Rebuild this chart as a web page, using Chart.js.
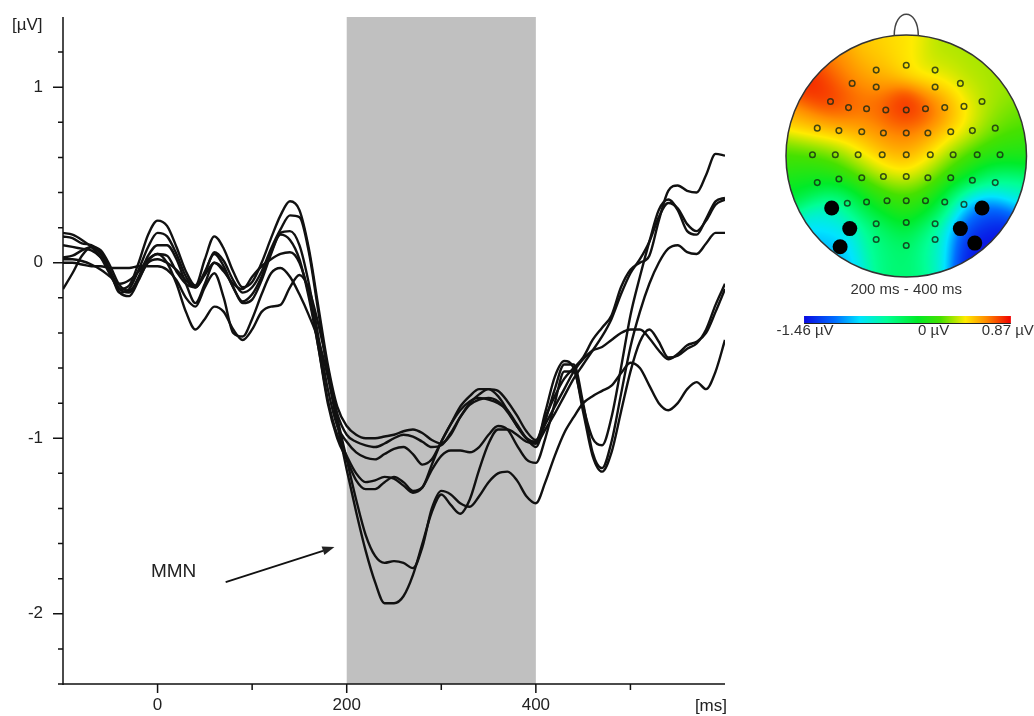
<!DOCTYPE html>
<html>
<head>
<meta charset="utf-8">
<script src="https://cdn.jsdelivr.net/npm/chart.js@4.4.1/dist/chart.umd.min.js"></script>
<style>
  html, body { margin: 0; padding: 0; background: #fff; }
  #wrap { position: relative; width: 1034px; height: 716px; overflow: hidden; }
  #erp { position: absolute; left: 0; top: 0; }
  #topo { position: absolute; left: 760px; top: 0; }
</style>
</head>
<body>
<div id="wrap">
  <canvas id="erp" width="760" height="716"></canvas>
  <canvas id="topo" width="274" height="350"></canvas>
</div>
<script>
// time axis (ms)
const times = [-100, -90, -80, -70, -60, -50, -40, -30, -20, -10,
  0, 10, 20, 30, 40, 50, 60, 70, 80, 90,
  100, 110, 120, 130, 140, 150, 160, 170, 180, 190,
  200, 210, 220, 230, 240, 250, 260, 270, 280, 290,
  300, 310, 320, 330, 340, 350, 360, 370, 380, 390,
  400, 410, 420, 430, 440, 450, 460, 470, 480, 490,
  500, 510, 520, 530, 540, 550, 560, 570, 580, 590, 600];

// difference waves (µV), one per electrode
const wave1 = [0.17, 0.16, 0.13, 0.09, 0.03, -0.07, -0.15, -0.13, 0.00, 0.16,
  0.24, 0.21, 0.09, -0.05, -0.13, 0.02, 0.15, 0.08, -0.05, -0.14,
  -0.11, 0.00, 0.14, 0.27, 0.35, 0.30, 0.08, -0.25, -0.58, -0.82,
  -0.93, -0.98, -1.00, -1.00, -0.99, -0.98, -0.96, -0.95, -0.97, -1.01,
  -1.03, -0.98, -0.88, -0.80, -0.75, -0.72, -0.73, -0.79, -0.87, -0.96,
  -1.01, -0.88, -0.76, -0.66, -0.60, -0.54, -0.44, -0.37, -0.30, -0.14,
  -0.04, 0.00, 0.04, 0.24, 0.41, 0.44, 0.41, 0.40, 0.50, 0.62, 0.61];
const wave2 = [0.15, 0.14, 0.11, 0.10, 0.06, -0.05, -0.17, -0.15, -0.04, 0.09,
  0.17, 0.15, 0.05, -0.08, -0.14, -0.06, 0.06, 0.01, -0.10, -0.17,
  -0.14, -0.05, 0.08, 0.19, 0.27, 0.26, 0.06, -0.28, -0.62, -0.86,
  -0.98, -1.02, -1.04, -1.05, -1.03, -1.00, -0.98, -0.99, -1.02, -1.05,
  -1.04, -0.97, -0.88, -0.81, -0.78, -0.77, -0.79, -0.85, -0.93, -1.00,
  -1.03, -0.85, -0.65, -0.56, -0.60, -0.82, -1.00, -1.04, -0.88, -0.60,
  -0.30, -0.08, 0.12, 0.30, 0.36, 0.30, 0.18, 0.16, 0.25, 0.35, 0.37];
const wave3 = [0.10, 0.09, 0.08, 0.07, 0.03, -0.05, -0.15, -0.17, -0.08, 0.04,
  0.10, 0.10, 0.02, -0.12, -0.23, -0.12, 0.00, -0.04, -0.14, -0.23,
  -0.21, -0.10, 0.05, 0.17, 0.18, 0.10, -0.12, -0.42, -0.72, -0.93,
  -1.02, -1.08, -1.11, -1.12, -1.09, -1.06, -1.05, -1.09, -1.15, -1.12,
  -1.02, -0.92, -0.84, -0.79, -0.77, -0.78, -0.80, -0.84, -0.92, -1.00,
  -1.05, -0.90, -0.72, -0.58, -0.58, -0.80, -1.08, -1.17, -1.02, -0.75,
  -0.48, -0.28, -0.12, 0.00, 0.08, 0.10, 0.06, 0.05, 0.11, 0.17, 0.17];
const wave4 = [0.03, 0.04, 0.07, 0.09, 0.05, -0.05, -0.17, -0.19, -0.10, 0.01,
  0.05, 0.04, -0.05, -0.12, -0.14, -0.05, 0.05, -0.02, -0.14, -0.22,
  -0.18, -0.08, 0.06, 0.16, 0.13, 0.02, -0.20, -0.48, -0.78, -0.98,
  -1.10, -1.20, -1.25, -1.24, -1.22, -1.23, -1.27, -1.31, -1.28, -1.18,
  -1.10, -1.07, -1.07, -1.08, -1.05, -0.98, -0.93, -0.95, -1.04, -1.12,
  -1.14, -1.00, -0.80, -0.62, -0.62, -0.85, -1.10, -1.19, -1.08, -0.85,
  -0.62, -0.45, -0.38, -0.45, -0.54, -0.53, -0.49, -0.46, -0.38, -0.24, -0.12];
const wave5 = [0.02, 0.02, 0.01, -0.01, -0.04, -0.08, -0.12, -0.10, -0.05, 0.02,
  0.05, 0.00, -0.12, -0.28, -0.38, -0.32, -0.25, -0.28, -0.38, -0.44,
  -0.38, -0.28, -0.25, -0.24, -0.14, -0.07, -0.15, -0.35, -0.60, -0.88,
  -1.12, -1.35, -1.55, -1.67, -1.71, -1.70, -1.71, -1.74, -1.62, -1.40,
  -1.30, -1.32, -1.37, -1.39, -1.33, -1.25, -1.20, -1.19, -1.24, -1.33,
  -1.37, -1.25, -1.10, -0.97, -0.88, -0.80, -0.76, -0.73, -0.70, -0.63,
  -0.57, -0.60, -0.70, -0.80, -0.84, -0.80, -0.72, -0.68, -0.72, -0.62, -0.44];
const wave6 = [0.00, 0.00, -0.01, -0.02, -0.02, -0.03, -0.03, -0.03, -0.02, -0.02,
  -0.02, -0.04, -0.10, -0.20, -0.25, -0.14, -0.06, -0.20, -0.40, -0.42,
  -0.32, -0.18, -0.06, -0.03, -0.08, -0.18, -0.30, -0.44, -0.65, -0.92,
  -1.18, -1.42, -1.64, -1.82, -1.94, -1.94, -1.90, -1.78, -1.60, -1.42,
  -1.32, -1.38, -1.43, -1.35, -1.18, -1.03, -0.95, -0.95, -0.98, -1.02,
  -1.03, -0.95, -0.86, -0.76, -0.66, -0.58, -0.50, -0.42, -0.32, -0.18,
  -0.06, 0.02, 0.12, 0.26, 0.34, 0.31, 0.22, 0.18, 0.24, 0.33, 0.36];
const wave7 = [-0.15, -0.06, 0.04, 0.09, 0.07, -0.02, -0.13, -0.16, -0.09, 0.00,
  0.02, 0.00, -0.04, -0.10, -0.14, -0.07, 0.00, -0.05, -0.12, -0.15,
  -0.08, -0.02, 0.02, 0.05, 0.06, 0.00, -0.18, -0.48, -0.80, -1.00,
  -1.12, -1.24, -1.29, -1.29, -1.25, -1.22, -1.25, -1.30, -1.28, -1.15,
  -1.02, -0.92, -0.82, -0.76, -0.72, -0.72, -0.76, -0.84, -0.93, -1.00,
  -1.02, -0.92, -0.82, -0.72, -0.62, -0.55, -0.50, -0.48, -0.44, -0.40,
  -0.38, -0.38, -0.43, -0.50, -0.55, -0.52, -0.47, -0.45, -0.40, -0.28, -0.15];
const waves = [wave1, wave2, wave3, wave4, wave5, wave6, wave7];

const xMin = -100, xMax = 600;
const yMin = -2.4, yMax = 1.4;
const xLabelled = [0, 200, 400];
const windowStart = 200, windowEnd = 400;

// MMN annotation, in data units
const mmnText = 'MMN';
const mmnAt = [-7, -1.76];
const arrowFrom = [72, -1.82];
const arrowTo = [187, -1.62];

// topography: electrode positions (head units) and mean amplitude 200-400 ms
const elecX = [-0.25, 0, 0.24,
  -0.45, -0.25, 0.24, 0.45,
  -0.63, -0.48, -0.33, -0.17, 0, 0.16, 0.32, 0.48, 0.63,
  -0.74, -0.56, -0.37, -0.19, 0, 0.18, 0.37, 0.55, 0.74,
  -0.78, -0.59, -0.40, -0.20, 0, 0.20, 0.39, 0.59, 0.78,
  -0.74, -0.56, -0.37, -0.19, 0, 0.18, 0.37, 0.55, 0.74,
  -0.62, -0.49, -0.33, -0.16, 0, 0.16, 0.32, 0.48, 0.63,
  -0.47, -0.25, 0, 0.24, 0.45,
  -0.55, -0.25, 0, 0.24, 0.57];
const elecY = [0.71, 0.75, 0.71,
  0.60, 0.57, 0.57, 0.60,
  0.45, 0.40, 0.39, 0.38, 0.38, 0.39, 0.40, 0.41, 0.45,
  0.23, 0.21, 0.20, 0.19, 0.19, 0.19, 0.20, 0.21, 0.23,
  0.01, 0.01, 0.01, 0.01, 0.01, 0.01, 0.01, 0.01, 0.01,
  -0.22, -0.19, -0.18, -0.17, -0.17, -0.18, -0.18, -0.20, -0.22,
  -0.43, -0.39, -0.38, -0.37, -0.37, -0.37, -0.38, -0.40, -0.43,
  -0.60, -0.56, -0.55, -0.56, -0.60,
  -0.75, -0.69, -0.74, -0.69, -0.72];
const elecV = [0.42, 0.38, 0.22,
  0.60, 0.58, 0.45, 0.22,
  0.82, 0.72, 0.62, 0.75, 0.85, 0.78, 0.60, 0.38, 0.20,
  0.50, 0.48, 0.50, 0.58, 0.62, 0.55, 0.42, 0.30, 0.12,
  0.05, 0.12, 0.32, 0.48, 0.54, 0.38, 0.15, 0.00, -0.05,
  -0.15, -0.05, 0.10, 0.26, 0.35, 0.20, 0.00, -0.18, -0.62,
  -0.85, -0.40, -0.15, 0.00, 0.05, -0.02, -0.22, -0.90, -1.38,
  -0.80, -0.35, -0.15, -0.38, -1.30,
  -0.95, -0.50, -0.40, -0.68, -1.46];
const markedElec = [43, 51, 52, 56, 57, 61];
const scaleMin = -1.46, scaleMax = 0.87;
const mapTitle = '200 ms - 400 ms';

const FONT = '"Liberation Sans", Arial, sans-serif';
const isInt = v => Math.abs(v - Math.round(v)) < 1e-6;

// ---------- ERP chart ----------
const erpDecor = {
  id: 'erpDecor',
  beforeDatasetsDraw(chart) {
    const { ctx, chartArea: a, scales: { x } } = chart;
    const x0 = x.getPixelForValue(windowStart);
    const x1 = x.getPixelForValue(windowEnd);
    ctx.save();
    ctx.fillStyle = '#c0c0c0';
    ctx.fillRect(x0, a.top, x1 - x0, a.bottom - a.top);
    ctx.restore();
  },
  afterDraw(chart) {
    const { ctx, chartArea: a, scales: { x, y } } = chart;
    ctx.save();
    ctx.strokeStyle = '#111';
    ctx.lineWidth = 1.5;
    ctx.beginPath();
    ctx.moveTo(a.left, a.top);
    ctx.lineTo(a.left, a.bottom + 1);
    ctx.moveTo(a.left, a.bottom);
    ctx.lineTo(a.right, a.bottom);
    y.ticks.forEach(t => {
      if (t.value >= yMax - 1e-6) return;
      const py = y.getPixelForValue(t.value);
      const len = isInt(t.value) ? 10 : 5;
      ctx.moveTo(a.left - len, py);
      ctx.lineTo(a.left, py);
    });
    x.ticks.forEach(t => {
      if (t.value <= xMin || t.value >= xMax) return;
      const px = x.getPixelForValue(t.value);
      const len = xLabelled.includes(t.value) ? 9 : 6;
      ctx.moveTo(px, a.bottom);
      ctx.lineTo(px, a.bottom + len);
    });
    ctx.stroke();

    ctx.fillStyle = '#222';
    ctx.font = '17px ' + FONT;
    ctx.textBaseline = 'middle';
    ctx.textAlign = 'left';
    ctx.fillText('[µV]', 12, a.top + 8);
    ctx.textAlign = 'right';
    ctx.fillText('[ms]', a.right + 2, a.bottom + 22);

    // MMN label and arrow
    ctx.font = '19px ' + FONT;
    ctx.textAlign = 'left';
    ctx.fillText(mmnText, x.getPixelForValue(mmnAt[0]), y.getPixelForValue(mmnAt[1]));
    const ax0 = x.getPixelForValue(arrowFrom[0]), ay0 = y.getPixelForValue(arrowFrom[1]);
    const ax1 = x.getPixelForValue(arrowTo[0]), ay1 = y.getPixelForValue(arrowTo[1]);
    const ang = Math.atan2(ay1 - ay0, ax1 - ax0);
    const head = 12, half = 4.5;
    const bx = ax1 - head * Math.cos(ang), by = ay1 - head * Math.sin(ang);
    ctx.lineWidth = 1.8;
    ctx.beginPath();
    ctx.moveTo(ax0, ay0);
    ctx.lineTo(bx, by);
    ctx.stroke();
    ctx.beginPath();
    ctx.moveTo(ax1, ay1);
    ctx.lineTo(bx + half * Math.sin(ang), by - half * Math.cos(ang));
    ctx.lineTo(bx - half * Math.sin(ang), by + half * Math.cos(ang));
    ctx.closePath();
    ctx.fill();
    ctx.restore();
  }
};

new Chart(document.getElementById('erp'), {
  type: 'line',
  data: {
    datasets: waves.map(w => ({
      data: times.map((t, i) => ({ x: t, y: w[i] })),
      borderColor: '#111',
      borderWidth: 2.4,
      pointRadius: 0,
      fill: false,
      cubicInterpolationMode: 'monotone'
    }))
  },
  options: {
    responsive: false,
    animation: false,
    events: [],
    layout: { padding: { top: 17, right: 35, left: 0, bottom: 0 } },
    plugins: { legend: { display: false }, tooltip: { enabled: false } },
    scales: {
      x: {
        type: 'linear', min: xMin, max: xMax,
        grid: { display: false, drawTicks: false },
        border: { display: false },
        ticks: {
          stepSize: 100, autoSkip: false, maxRotation: 0, padding: 11,
          color: '#222', font: { size: 17, family: FONT },
          callback: v => xLabelled.includes(v) ? String(v) : ''
        },
        afterFit: s => { s.height = 32; s.paddingLeft = 0; s.paddingRight = 0; }
      },
      y: {
        min: yMin, max: yMax,
        grid: { display: false, drawTicks: false },
        border: { display: false },
        ticks: {
          stepSize: 0.2, autoSkip: false, padding: 20,
          color: '#222', font: { size: 17, family: FONT },
          callback: v => isInt(v) ? String(Math.round(v)) : ''
        },
        afterFit: s => { s.width = 63; s.paddingTop = 0; s.paddingBottom = 0; }
      }
    }
  },
  plugins: [erpDecor]
});

// ---------- topography ----------
const cmapPos = [0, 0.15, 0.27, 0.40, 0.55, 0.66, 0.78, 0.88, 1];
const cmapCol = [[10, 10, 225], [0, 110, 255], [0, 228, 255], [0, 255, 150],
  [0, 235, 40], [70, 225, 0], [255, 235, 0], [255, 140, 0], [240, 0, 0]];

function cmap(t) {
  t = Math.max(0, Math.min(1, t));
  for (let k = 1; k < cmapPos.length; k++) {
    if (t <= cmapPos[k]) {
      const f = (t - cmapPos[k - 1]) / (cmapPos[k] - cmapPos[k - 1]);
      const a = cmapCol[k - 1], b = cmapCol[k];
      return [a[0] + f * (b[0] - a[0]), a[1] + f * (b[1] - a[1]), a[2] + f * (b[2] - a[2])];
    }
  }
  return cmapCol[cmapCol.length - 1];
}

function fieldAt(u, v) {
  const s2 = 2 * 0.13 * 0.13;
  let sw = 0, sv = 0, best = 1e9, bestV = 0;
  for (let k = 0; k < elecX.length; k++) {
    const dx = u - elecX[k], dy = v - elecY[k];
    const d2 = dx * dx + dy * dy;
    const w = Math.exp(-d2 / s2);
    sw += w; sv += w * elecV[k];
    if (d2 < best) { best = d2; bestV = elecV[k]; }
  }
  return sw > 1e-12 ? sv / sw : bestV;
}

const topoDecor = {
  id: 'topoDecor',
  beforeDatasetsDraw(chart) {
    const { ctx, scales: { x, y } } = chart;
    const cx = x.getPixelForValue(0), cy = y.getPixelForValue(0);
    const rx = x.getPixelForValue(1) - cx, ry = cy - y.getPixelForValue(1);
    const ox = Math.floor(cx - rx) - 1, oy = Math.floor(cy - ry) - 1;
    const w = Math.ceil(2 * rx) + 3, h = Math.ceil(2 * ry) + 3;
    const off = document.createElement('canvas');
    off.width = w; off.height = h;
    const octx = off.getContext('2d');
    const img = octx.createImageData(w, h);
    for (let j = 0; j < h; j++) {
      for (let i = 0; i < w; i++) {
        const u = x.getValueForPixel(ox + i + 0.5);
        const v = y.getValueForPixel(oy + j + 0.5);
        if (u * u + v * v > 1.08) continue;
        const c = cmap((fieldAt(u, v) - scaleMin) / (scaleMax - scaleMin));
        const p = (j * w + i) * 4;
        img.data[p] = c[0]; img.data[p + 1] = c[1]; img.data[p + 2] = c[2]; img.data[p + 3] = 255;
      }
    }
    octx.putImageData(img, 0, 0);
    ctx.save();
    ctx.beginPath();
    ctx.ellipse(cx, cy, rx, ry, 0, 0, Math.PI * 2);
    ctx.clip();
    ctx.drawImage(off, ox, oy);
    ctx.restore();

    ctx.save();
    ctx.strokeStyle = '#333';
    ctx.lineWidth = 1.5;
    ctx.beginPath();
    ctx.ellipse(cx, cy, rx, ry, 0, 0, Math.PI * 2);
    ctx.stroke();
    ctx.strokeStyle = '#444';
    ctx.beginPath();
    ctx.moveTo(x.getPixelForValue(-0.1), y.getPixelForValue(0.995));
    ctx.bezierCurveTo(x.getPixelForValue(-0.1), y.getPixelForValue(1.23),
      x.getPixelForValue(0.1), y.getPixelForValue(1.23),
      x.getPixelForValue(0.1), y.getPixelForValue(0.995));
    ctx.stroke();
    ctx.restore();
  },
  afterDraw(chart) {
    const { ctx, scales: { x, y } } = chart;
    const bottom = y.getPixelForValue(-1);
    ctx.save();
    ctx.fillStyle = '#333';
    ctx.font = '15px ' + FONT;
    ctx.textAlign = 'center';
    ctx.textBaseline = 'middle';
    ctx.fillText(mapTitle, x.getPixelForValue(0), bottom + 13);

    const cbL = x.getPixelForValue(-0.85), cbR = x.getPixelForValue(0.87);
    const cbT = bottom + 39, cbH = 7;
    const g = ctx.createLinearGradient(cbL, 0, cbR, 0);
    cmapPos.forEach((p, k) => g.addColorStop(p, 'rgb(' + cmapCol[k].join(',') + ')'));
    ctx.fillStyle = g;
    ctx.fillRect(cbL, cbT, cbR - cbL, cbH);
    ctx.strokeStyle = '#222';
    ctx.lineWidth = 1;
    ctx.beginPath();
    ctx.moveTo(cbL, cbT + cbH + 0.5);
    ctx.lineTo(cbR, cbT + cbH + 0.5);
    ctx.stroke();

    ctx.fillStyle = '#333';
    const ly = cbT + cbH + 8;
    const zeroX = cbL + (0 - scaleMin) / (scaleMax - scaleMin) * (cbR - cbL);
    ctx.fillText(scaleMin.toFixed(2) + ' µV', cbL + 1, ly);
    ctx.fillText('0 µV', zeroX, ly);
    ctx.fillText(scaleMax.toFixed(2) + ' µV', cbR - 3, ly);
    ctx.restore();
  }
};

const plainIdx = elecX.map((_, k) => k).filter(k => !markedElec.includes(k));

new Chart(document.getElementById('topo'), {
  type: 'scatter',
  data: {
    datasets: [
      {
        data: plainIdx.map(k => ({ x: elecX[k], y: elecY[k] })),
        pointRadius: 2.8,
        pointBackgroundColor: 'rgba(0,0,0,0)',
        pointBorderColor: 'rgba(20,40,20,0.8)',
        pointBorderWidth: 1.5
      },
      {
        data: markedElec.map(k => ({ x: elecX[k], y: elecY[k] })),
        pointRadius: 7.5,
        pointBackgroundColor: '#000',
        pointBorderWidth: 0
      }
    ]
  },
  options: {
    responsive: false,
    animation: false,
    events: [],
    layout: { padding: { left: 26, right: 6, top: 35, bottom: 73 } },
    plugins: { legend: { display: false }, tooltip: { enabled: false } },
    scales: {
      x: { type: 'linear', min: -1, max: 1, display: false },
      y: { type: 'linear', min: -1, max: 1, display: false }
    }
  },
  plugins: [topoDecor]
});
</script>
</body>
</html>
